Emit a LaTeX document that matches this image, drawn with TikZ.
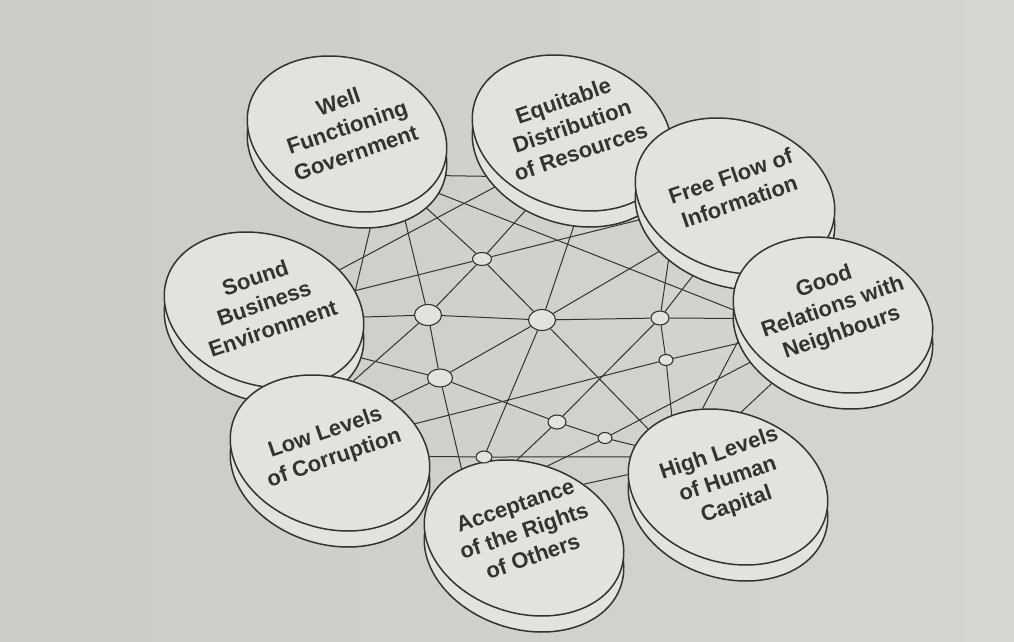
\documentclass[tikz,border=0pt]{standalone}
\usepackage{fontspec}
\setmainfont{Liberation Sans}
\usetikzlibrary{shapes.geometric}

\definecolor{paperL}{RGB}{203,204,198}
\definecolor{paperM}{RGB}{223,225,219}
\definecolor{paperR}{RGB}{213,214,209}
\definecolor{discfill}{RGB}{226,227,222}
\definecolor{ink}{RGB}{50,52,48}

\pgfdeclarelayer{backdrop}
\pgfdeclarelayer{links}
\pgfsetlayers{backdrop,links,main}

\tikzset{
  disc/.style={ellipse, draw=ink, line width=1.5pt, fill=discfill,
    minimum width=204pt, minimum height=150pt, inner sep=0pt, rotate=-18},
  disclabel/.style={font=\fontsize{22}{27}\selectfont\bfseries, text=ink,
    align=center, rotate=19, inner sep=0.75pt},
  hub/.style={ellipse, draw=ink, line width=1.1pt, fill=discfill, inner sep=0pt},
  link/.style={draw=ink, line width=1pt},
}

\begin{document}
\begin{tikzpicture}[x=1pt,y=-1pt]
\useasboundingbox (0,0) rectangle (1014,642);
\begin{pgfonlayer}{backdrop}
\shade[left color=paperL, middle color=paperM, right color=paperR] (0,0) rectangle (1014,642);
\end{pgfonlayer}

%Discs: side first, then top face and label
\foreach \nm/\x/\y/\txt in {
  biz/264/310/{Sound\\Business\\Environment},
  corr/330/453/{Low Levels\\of Corruption},
  gov/347/134/{Well\\Functioning\\Government},
  equi/572/133/{Equitable\\Distribution\\of Resources},
  flow/735/196/{Free Flow of\\Information},
  nbr/833/315/{Good\\Relations with\\Neighbours},
  human/728/487/{High Levels\\of Human\\Capital},
  rights/524/538/{Acceptance\\of the Rights\\of Others}}{
  \node[disc] at (\x,{\y+16}) {};
  \node[disc] (\nm) at (\x,\y) {};
  \node[disclabel] (\nm-txt) at (\x,{\y-7}) {\txt};
}

%Hubs
\node[hub, minimum width=19pt, minimum height=13pt] (h1) at (482,259) {};
\node[hub, minimum width=27pt, minimum height=21pt] (h2) at (428,315) {};
\node[hub, minimum width=27pt, minimum height=21pt] (h3) at (542,320) {};
\node[hub, minimum width=18pt, minimum height=14pt] (h4) at (660,318) {};
\node[hub, minimum width=14pt, minimum height=11pt] (h5) at (666,360) {};
\node[hub, minimum width=25pt, minimum height=18pt] (h6) at (440,378) {};
\node[hub, minimum width=18pt, minimum height=14pt] (h7) at (557,422) {};
\node[hub, minimum width=14pt, minimum height=11pt] (h8) at (605,438) {};
\node[hub, minimum width=16pt, minimum height=12pt] (h9) at (484,457) {};

%Links
\begin{pgfonlayer}{links}
\draw[link] (gov.-6) -- (equi.229);
\draw[link] (gov.-16) -- (nbr.195);
\draw[link] (gov.-35) -- (h2) -- (h6) -- (rights.150);
\draw[link] (gov.-25) -- (h1);
\draw[link] (gov.-53) -- (biz.30);
\draw[link] (biz.46) -- (equi.234);
\draw[link] (h1) -- (equi.259);
\draw[link] (equi.-67) -- (h3);
\draw[link] (h1) -- (flow.212);
\draw[link] (h3) -- (flow.235);
\draw[link] (human.146) -- (h5) -- (h4) -- (flow.236);
\draw[link] (h7) -- (h4) -- (flow.262);
\draw[link] (h4) -- (nbr.200);
\draw[link] (corr.37) -- (h5) -- (nbr.215);
\draw[link] (h8) -- (nbr.228);
\draw[link] (human.126) -- (nbr.210);
\draw[link] (human.98) -- (nbr.-113);
\draw[link] (h3) -- (human.162);
\draw[link] (biz.-9) -- (h6) -- (h7) -- (h8) -- (human.174);
\draw[link] (corr.16) -- (h9) -- (human.181);
\draw[link] (rights.60) -- (human.191);
\draw[link] (h7) -- (rights.113);
\draw[link] (h8) -- (rights.90);
\draw[link] (h2) -- (corr.90);
\draw[link] (h6) -- (corr.58);
\draw[link] (biz.14) -- (h2);
\draw[link] (biz.30) -- (h1);
\draw[link] (h1) -- (h2);
\draw[link] (h1) -- (h3);
\draw[link] (h2) -- (h3);
\draw[link] (h3) -- (h4);
\draw[link] (h3) -- (h6);
\draw[link] (h3) -- (h9);
\end{pgfonlayer}

\end{tikzpicture}
\end{document}
